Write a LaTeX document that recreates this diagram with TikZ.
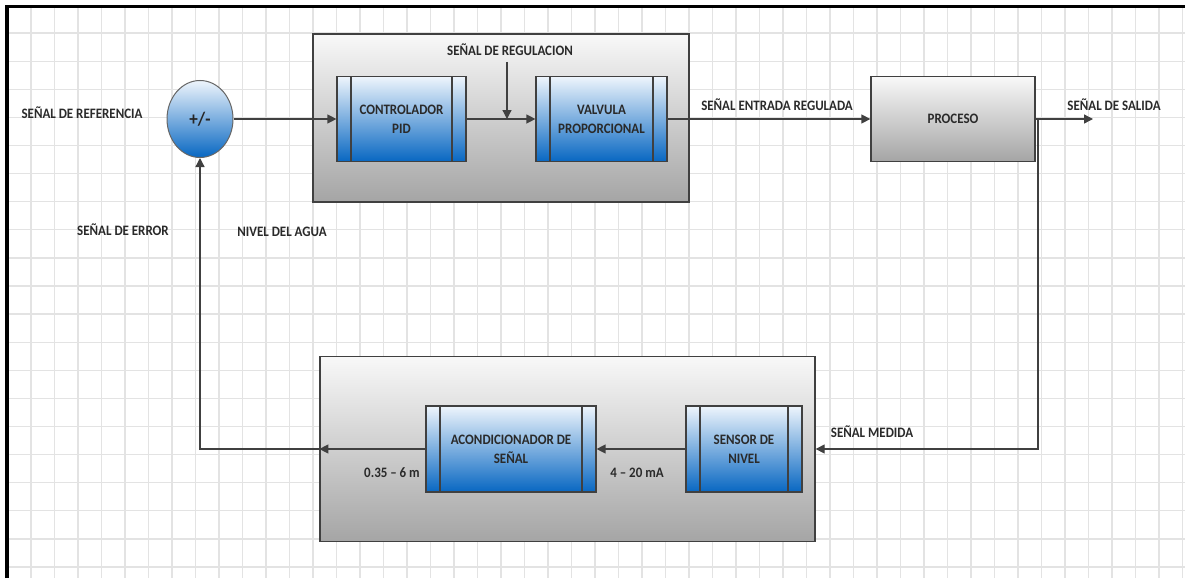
\documentclass[tikz,border=0pt]{standalone}
\usepackage{fontspec}
\setmainfont{Carlito}[FakeStretch=0.9]
\usetikzlibrary{arrows.meta,shapes.geometric,calc}

\definecolor{ln}{HTML}{404040}
\definecolor{txt}{HTML}{2A2A2A}
\definecolor{gridc}{HTML}{E3E3E3}
\definecolor{bluetop}{HTML}{EEF5FC}
\definecolor{bluebot}{HTML}{0867C2}
\definecolor{greytop}{HTML}{F8F8F8}
\definecolor{greybot}{HTML}{A5A5A5}

\tikzset{
  lbl/.style={font=\fontsize{14.4}{19}\selectfont\bfseries, text=txt, inner sep=0pt, align=center},
  bluebox/.style={draw=ln, line width=1.2pt, top color=bluetop, bottom color=bluebot,
    inner sep=0pt, font=\fontsize{14.4}{19}\selectfont\bfseries, text=txt, align=center,
    path picture={
      \draw[ln, line width=1.2pt] ([xshift=14pt]path picture bounding box.north west) -- ([xshift=14pt]path picture bounding box.south west);
      \draw[ln, line width=1.2pt] ([xshift=-14pt]path picture bounding box.north east) -- ([xshift=-14pt]path picture bounding box.south east);}},
  greybox/.style={draw=ln, line width=1.3pt, top color=greytop, bottom color=greybot, inner sep=0pt,
    font=\fontsize{14.4}{19}\selectfont\bfseries, text=txt, align=center},
  conn/.style={draw=ln, line width=1.3pt},
  arr/.style={conn, -{Triangle[length=9pt,width=9pt]}},
}

\begin{document}
\begin{tikzpicture}[x=1pt, y=-1pt]
\useasboundingbox (0,0) rectangle (1185,578);
\fill[white] (0,0) rectangle (1185,578);
% grid
\foreach \k in {0,...,49} \draw[gridc, line width=1.3pt] ({31+23.5*\k},8) -- ({31+23.5*\k},578);
\foreach \k in {1,...,20} \draw[gridc, line width=1.3pt] (8,{5+28.1*\k}) -- (1185,{5+28.1*\k});
% frame
\draw[black, line width=3.5pt] (7,578) -- (7,6.5) -- (1185,6.5);

% group boxes
\node[greybox, minimum width=376pt, minimum height=168pt] (g1) at (501,118) {};
\node[greybox, minimum width=495pt, minimum height=185pt] (g2) at (567.5,449) {};

% blocks
\node[ellipse, draw=ln!80, line width=1pt, top color=bluetop, bottom color=bluebot,
      minimum width=66pt, minimum height=77pt, inner sep=0pt,
      font=\fontsize{19}{20}\selectfont\bfseries, text=black!85] (sum) at (200,119) {+/-};
\node[bluebox, minimum width=129pt, minimum height=85pt] (pid) at (401.5,119) {CONTROLADOR\\PID};
\node[bluebox, minimum width=131pt, minimum height=85pt] (valv) at (601.5,119) {VALVULA\\PROPORCIONAL};
\node[greybox, minimum width=164pt, minimum height=85pt] (proc) at (953,119) {PROCESO};
\node[bluebox, minimum width=170pt, minimum height=86pt] (acond) at (511,449) {ACONDICIONADOR DE\\SEÑAL};
\node[bluebox, minimum width=116pt, minimum height=86pt] (sens) at (744,449) {SENSOR DE\\NIVEL};

% labels
\node[lbl] (lref) at (82,113) {SEÑAL DE REFERENCIA};
\node[lbl] (lerr) at (123,230) {SEÑAL DE ERROR};
\node[lbl] (lniv) at (282,232) {NIVEL DEL AGUA};
\node[lbl] (lreg) at (510,50) {SEÑAL DE REGULACION};
\node[lbl] (lent) at (777,105) {SEÑAL ENTRADA REGULADA};
\node[lbl] (lsal) at (1114,105) {SEÑAL DE SALIDA};
\node[lbl] (lmed) at (872,432) {SEÑAL MEDIDA};
\node[lbl] (lm) at (392,473) {0.35 – 6 m};
\node[lbl] (lma) at (637,473) {4 – 20 mA};

% coordinates
\coordinate (regtop) at (507,62);
\coordinate (regtip) at (507,119);
\coordinate (out) at (1093,119);
\coordinate (br) at (1038,119);

% connectors
\draw[arr] (sum.east) -- (pid.west);
\draw[arr] (pid.east) -- (valv.west);
\draw[arr] (regtop) -- (regtip);
\draw[arr] (valv.east) -- (proc.west);
\draw[arr] (proc.east) -- (out);
\draw[arr] (br) |- (g2.east);
\draw[arr] (sens.west) -- (acond.east);
\draw[arr] (acond.west) -- (g2.west);
\draw[arr] (g2.west) -| (sum.south);
\end{tikzpicture}
\end{document}
